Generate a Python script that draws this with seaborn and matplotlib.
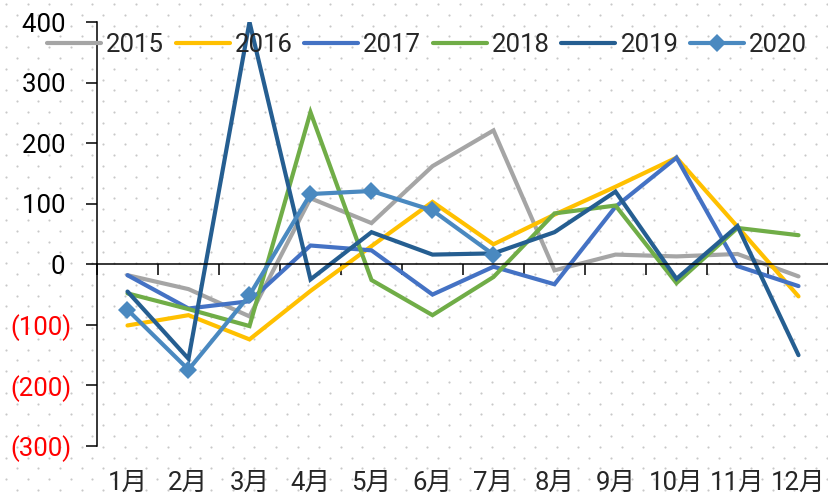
import numpy as np
import pandas as pd
import matplotlib
matplotlib.use("Agg")
import matplotlib.pyplot as plt
import seaborn as sns

# monthly values
months = ['1月', '2月', '3月', '4月', '5月', '6月', '7月', '8月', '9月', '10月', '11月', '12月']
years = ['2015', '2016', '2017', '2018', '2019', '2020']

v2015 = [-18, -41, -86, 109, 68, 162, 221, -10, 16, 13, 17, -20]
v2016 = [-101, -84, -124, -44, 30, 103, 33, 82, 128, 176, 62, -53]
v2017 = [-18, -73, -61, 31, 23, -50, -4, -33, 95, 176, -3, -36]
v2018 = [-48, -74, -102, 251, -26, -84, -21, 84, 97, -31, 60, 48]
v2019 = [-45, -156, 400, -25, 53, 16, 18, 53, 120, -24, 63, -150]
v2020 = [-75, -174, -51, 116, 121, 89, 16, np.nan, np.nan, np.nan, np.nan, np.nan]

colors = ['#A5A5A5', '#FFC000', '#4472C4', '#70AD47', '#255E91', '#4A89C0']
yticks = [-300, -200, -100, 0, 100, 200, 300, 400]

wide = pd.DataFrame({'pos': np.arange(12), '2015': v2015, '2016': v2016, '2017': v2017,
                     '2018': v2018, '2019': v2019, '2020': v2020})
long = wide.melt(id_vars='pos', var_name='year', value_name='value').dropna()

sns.set_theme(style='white')
plt.rcParams['font.family'] = ['Roboto', 'Noto Sans CJK SC', 'DejaVu Sans']
fs = 18.5

W, H = 829, 495
fig = plt.figure(figsize=(W / 100, H / 100), dpi=100)
fig.patch.set_facecolor('white')

# dotted background pattern (Excel style fill)
bg = fig.add_axes([0, 0, 1, 1], zorder=0)
bg.set_axis_off()
bg.set_xlim(0, W)
bg.set_ylim(H, 0)
step = 10.8
rows = np.arange(4, H, step)
pts = []
for i, yy in enumerate(rows):
    off = 6 if i % 2 == 0 else 6 + step
    for xx in np.arange(off, W, 2 * step):
        pts.append((xx, yy))
pts = np.array(pts)
bg.scatter(pts[:, 0], pts[:, 1], s=2.4, color='#C8C8C8', linewidths=0)

ax = fig.add_axes([97 / W, 1 - 446 / H, 732 / W, 424 / H], zorder=1)
ax.patch.set_alpha(0)

for yr, c in zip(years, colors):
    sub = long[long['year'] == yr]
    sns.lineplot(data=sub, x='pos', y='value', color=c, linewidth=3.0, ax=ax, label=yr,
                 marker='D' if yr == '2020' else None, markersize=9, markeredgewidth=0,
                 sort=False, solid_capstyle='round', solid_joinstyle='miter')

ax.set_xlim(-0.5, 11.5)
ax.set_ylim(-300, 400)
ax.set_xlabel('')
ax.set_ylabel('')

for s in ['top', 'right']:
    ax.spines[s].set_visible(False)
ax.spines['left'].set_color('black')
ax.spines['bottom'].set_color('black')
ax.spines['left'].set_linewidth(1.1)
ax.spines['bottom'].set_linewidth(1.1)
ax.spines['bottom'].set_position(('data', 0))

ax.set_xticks(np.arange(-0.5, 12, 1))
ax.set_xticklabels([])
ax.tick_params(axis='x', direction='out', length=8, width=1.1, color='black', bottom=True)

ylabels = [f'({abs(v)})' if v < 0 else f'{v} ' for v in yticks]
ax.set_yticks(yticks, ylabels)
ax.tick_params(axis='y', direction='out', length=8, width=1.1, color='black', left=True,
               pad=10, labelsize=fs)
for lab in ax.get_yticklabels():
    lab.set_color('red' if lab.get_text().startswith('(') else 'black')

sec = ax.secondary_xaxis(0)
sec.set_xticks(np.arange(12), months)
sec.tick_params(length=0, pad=18, labelsize=fs)
sec.spines['bottom'].set_visible(False)

handles, labels = ax.get_legend_handles_labels()
ax.get_legend().remove()
fig.legend(handles, labels, ncol=6, loc='center', bbox_to_anchor=(427 / W, 1 - 45 / H),
           frameon=False, fontsize=fs, handlelength=2.1, handletextpad=0.2,
           columnspacing=0.45)

fig.savefig('out.png', dpi=100)
